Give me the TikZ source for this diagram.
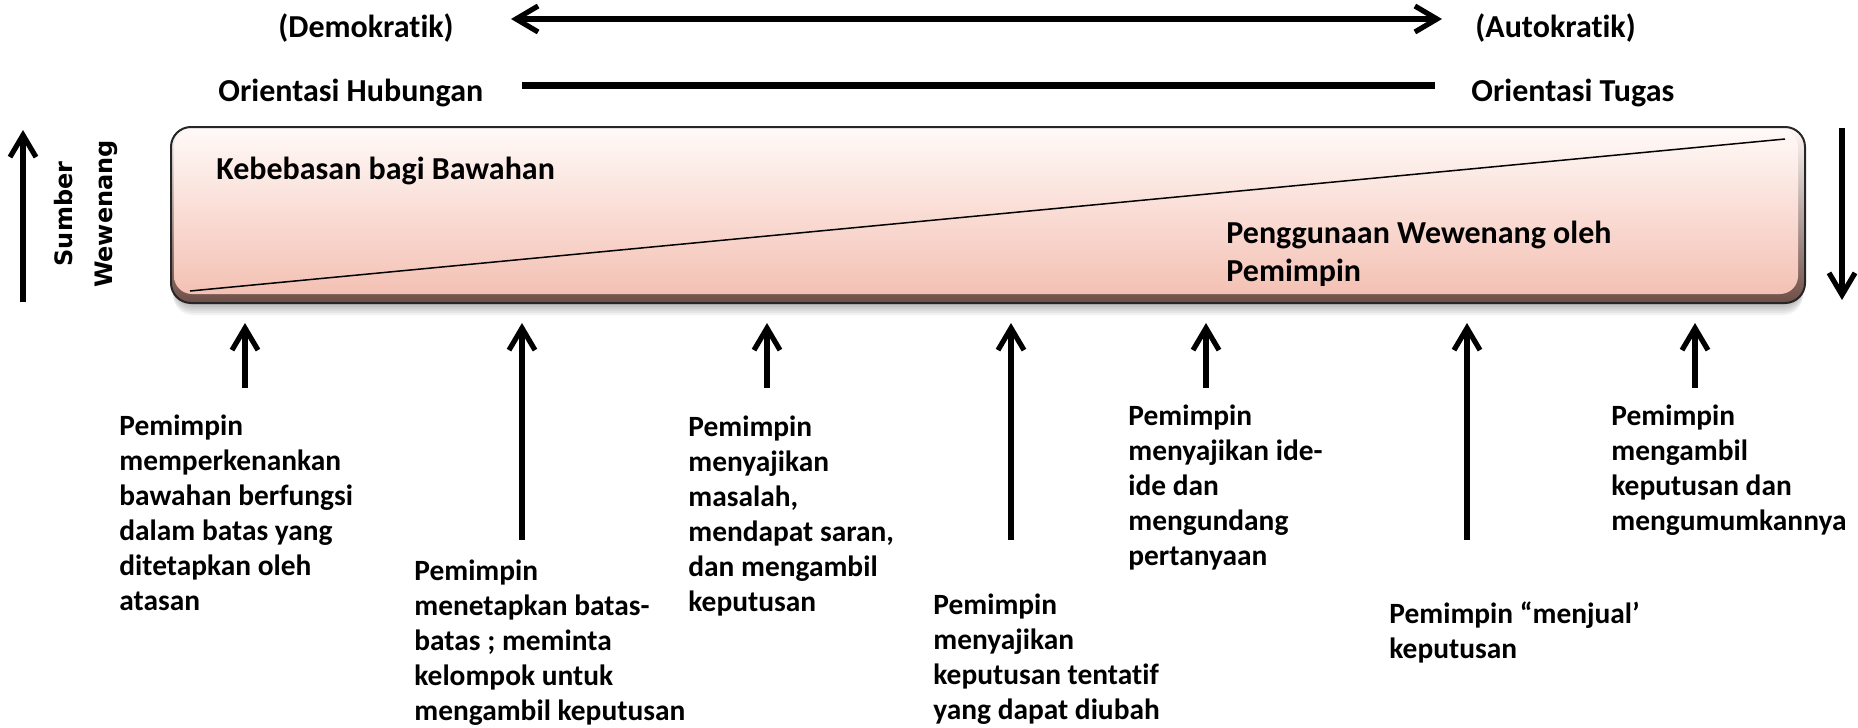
\documentclass[tikz,border=0pt]{standalone}
\usepackage{fontspec}
\setmainfont{Carlito}[Ligatures=NoCommon]
\newfontfamily\sidefont{DejaVu Sans}
\usepackage{xcolor}
\usepackage{tikz}
\usetikzlibrary{
  arrows.meta,
  positioning
}

\definecolor{bartop}{HTML}{FFF9F7}
\definecolor{barbot}{HTML}{F4C1B4}
\definecolor{bevel}{HTML}{6E4E47}

\begin{document}
\begin{tikzpicture}[
    x=0.5pt, y=-0.5pt,
    head/.style={font=\fontsize{16}{19}\selectfont\bfseries,
                 anchor=base west, inner sep=0pt, align=left},
    lbl/.style={font=\fontsize{14.7}{17.5}\selectfont\bfseries,
                anchor=base west, inner sep=0pt, align=left},
    up/.style={-{Straight Barb[length=11pt,width=13pt]}, line width=2.6pt},
    dbl/.style={{Straight Barb[length=11pt,width=13pt]}-{Straight Barb[length=11pt,width=13pt]},
                line width=2.6pt},
  ]
  \useasboundingbox (0,0) rectangle (1858,728);

  % ---- Top scale ----
  \node[head] (demo) at (278,38) {(Demokratik)};
  \node[head] (auto) at (1475,38) {(Autokratik)};
  \node[head] (hub) at (218,101) {Orientasi Hubungan};
  \node[head] (tug) at (1471,101) {Orientasi Tugas};
  \coordinate (sl) at (511,19);
  \coordinate (sr) at (1442,19);
  \coordinate (ol) at (522,85);
  \coordinate (or) at (1435,85);
  \draw[dbl] (sl) -- (sr);
  \draw[line width=3.5pt] (ol) -- (or);

  % ---- Bar ----
  \foreach \s in {2,4,...,12}
    \fill[black, opacity=0.05, rounded corners=10pt]
      (173,131+\s) rectangle (1803,303+\s);
  \shade[rounded corners=10pt, top color=bartop, bottom color=bevel]
    (171,127) rectangle (1805,303);
  \shade[rounded corners=9pt, top color=bartop, bottom color=barbot]
    (174,129) rectangle (1798,294);
  \draw[black!85, line width=1pt, rounded corners=10pt]
    (171,127) rectangle (1805,303);
  \coordinate (dl) at (190,291);
  \coordinate (dr) at (1785,139);
  \draw[line width=0.75pt] (dl) -- (dr);
  \node[head] (bebas) at (216,179) {Kebebasan bagi Bawahan};
  % multi-line nodes sit on their last baseline
  \node[head] (guna) at (1226,281) {Penggunaan Wewenang oleh\\Pemimpin};

  % ---- Side arrows ----
  \coordinate (lb) at (23,302);
  \coordinate (lt) at (23,130);
  \coordinate (rt) at (1842,128);
  \coordinate (rb) at (1842,300);
  \draw[up] (lb) -- (lt);
  \draw[up] (rt) -- (rb);
  \node[rotate=90, align=center, inner sep=0pt,
        font=\sidefont\fontsize{12}{20}\selectfont\bfseries] (sumber) at (86,214)
    {Sumber\\Wewenang};

  % ---- Arrows under the bar ----
  \coordinate (b1) at (245,388);  \coordinate (t1) at (245,323);
  \coordinate (b2) at (522,540);  \coordinate (t2) at (522,323);
  \coordinate (b3) at (767,388);  \coordinate (t3) at (767,323);
  \coordinate (b4) at (1011,540); \coordinate (t4) at (1011,323);
  \coordinate (b5) at (1206,388); \coordinate (t5) at (1206,323);
  \coordinate (b6) at (1467,540); \coordinate (t6) at (1467,323);
  \coordinate (b7) at (1695,388); \coordinate (t7) at (1695,323);
  \draw[up] (b1) -- (t1);
  \draw[up] (b2) -- (t2);
  \draw[up] (b3) -- (t3);
  \draw[up] (b4) -- (t4);
  \draw[up] (b5) -- (t5);
  \draw[up] (b6) -- (t6);
  \draw[up] (b7) -- (t7);

  % ---- Behaviour labels ----
  \node[lbl] (p1) at (119,610) {Pemimpin\\memperkenankan\\bawahan berfungsi\\dalam batas yang\\ditetapkan oleh\\atasan};
  \node[lbl] (p2) at (414,720) {Pemimpin\\menetapkan batas-\\batas ; meminta\\kelompok untuk\\mengambil keputusan};
  \node[lbl] (p3) at (688,611) {Pemimpin\\menyajikan\\masalah,\\mendapat saran,\\dan mengambil\\keputusan};
  \node[lbl] (p4) at (933,719) {Pemimpin\\menyajikan\\keputusan tentatif\\yang dapat diubah};
  \node[lbl] (p5) at (1128,565) {Pemimpin\\menyajikan ide-\\ide dan\\mengundang\\pertanyaan};
  \node[lbl] (p6) at (1389,658) {Pemimpin “menjual’\\keputusan};
  \node[lbl] (p7) at (1611,530) {Pemimpin\\mengambil\\keputusan dan\\mengumumkannya};

\end{tikzpicture}
\end{document}
